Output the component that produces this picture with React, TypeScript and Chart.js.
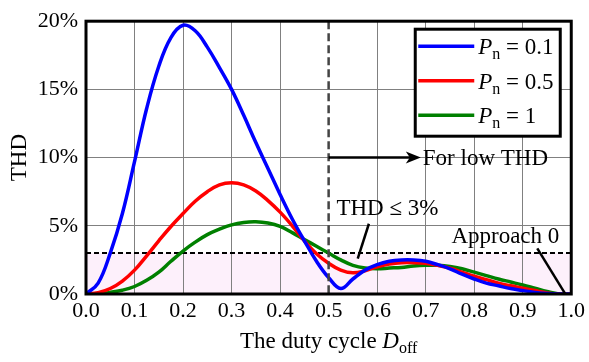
import React, { useEffect, useRef } from 'react';
import { Chart, registerables } from 'chart.js';

Chart.register(...registerables);

// ---- data ----
const dutyCycle = [
  0, 0.025, 0.05, 0.075, 0.1, 0.125, 0.15, 0.175, 0.2, 0.225,
  0.25, 0.275, 0.3, 0.325, 0.35, 0.375, 0.4, 0.425, 0.45, 0.475,
  0.5, 0.525, 0.55, 0.575, 0.6, 0.625, 0.65, 0.675, 0.7, 0.725,
  0.75, 0.775, 0.8, 0.825, 0.85, 0.875, 0.9, 0.925, 0.95, 0.975, 1.0,
];
const thdPn01 = [
  0, 0.8, 3.0, 5.9, 9.7, 13.6, 16.7, 18.8, 19.7, 19.3,
  18.1, 16.6, 15.0, 13.1, 11.1, 9.2, 7.3, 5.5, 3.9, 2.4,
  1.2, 0.4, 1.1, 1.75, 2.15, 2.4, 2.5, 2.5, 2.4, 2.15,
  1.85, 1.45, 1.1, 0.8, 0.6, 0.4, 0.25, 0.12, 0.03, 0, 0,
];
const thdPn05 = [
  0, 0.1, 0.4, 0.95, 1.75, 2.8, 3.9, 4.95, 5.9, 6.8,
  7.5, 8.0, 8.15, 8.0, 7.55, 6.85, 6.0, 5.0, 3.9, 2.95,
  2.25, 1.75, 1.55, 1.7, 2.0, 2.2, 2.3, 2.3, 2.25, 2.1,
  1.9, 1.6, 1.3, 1.05, 0.8, 0.6, 0.43, 0.25, 0.08, 0, 0,
];
const thdPn1 = [
  0, 0.03, 0.12, 0.28, 0.55, 1.0, 1.6, 2.4, 3.15, 3.8,
  4.35, 4.75, 5.07, 5.25, 5.3, 5.2, 4.95, 4.5, 4.0, 3.5,
  3.0, 2.5, 2.1, 1.9, 1.85, 1.9, 1.95, 2.05, 2.1, 2.1,
  2.02, 1.85, 1.6, 1.35, 1.1, 0.88, 0.66, 0.42, 0.18, 0, 0,
];

const seriesValues = [thdPn01, thdPn05, thdPn1];
const seriesPn = ['0.1', '0.5', '1'];
const seriesColors = ['#0000ff', '#ff0000', '#008000'];

const xMin = 0;
const xMax = 1;
const xStep = 0.1;
const yMin = 0;
const yMax = 20;
const yStep = 5;

const thdLimit = 3; // %
const dividerDuty = 0.5;

// annotations (data coordinates)
const arrowStart = { x: 0.5, y: 10 };
const arrowEnd = { x: 0.69, y: 10 };
const arrowText = 'For low THD';
const limitText = 'THD \u2264 3%';
const limitTextPos = { x: 0.516, y: 6.2 };
const limitLeader = [{ x: 0.583, y: 5.15 }, { x: 0.56, y: 2.6 }];
const approachText = 'Approach 0';
const approachTextPos = { x: 0.753, y: 4.2 };
const approachLeader = [{ x: 0.93, y: 3.35 }, { x: 0.987, y: 0.05 }];

const FONT = '"Liberation Serif", "Times New Roman", serif';

type Part = { text: string; italic?: boolean; size: number; dy?: number };

function fontOf(p: Part) {
  return `${p.italic ? 'italic ' : ''}${p.size}px ${FONT}`;
}

function partsWidth(ctx: CanvasRenderingContext2D, parts: Part[]) {
  let w = 0;
  for (const p of parts) {
    ctx.font = fontOf(p);
    w += ctx.measureText(p.text).width;
  }
  return w;
}

function drawParts(ctx: CanvasRenderingContext2D, parts: Part[], x: number, y: number, align: 'left' | 'center') {
  let cx = align === 'center' ? x - partsWidth(ctx, parts) / 2 : x;
  ctx.textAlign = 'left';
  for (const p of parts) {
    ctx.font = fontOf(p);
    ctx.fillText(p.text, cx, y + (p.dy || 0));
    cx += ctx.measureText(p.text).width;
  }
}

const decorPlugin = {
  id: 'decor',
  beforeDraw(chart: any) {
    const { ctx, chartArea: a, scales } = chart;
    const y = scales.y;
    const yTop = y.getPixelForValue(thdLimit);
    ctx.save();
    ctx.fillStyle = '#fdf0fb';
    ctx.fillRect(a.left, yTop, a.right - a.left, a.bottom - yTop);
    ctx.restore();
  },
  beforeDatasetsDraw(chart: any) {
    const { ctx, chartArea: a, scales } = chart;
    const yy = scales.y.getPixelForValue(thdLimit);
    ctx.save();
    ctx.strokeStyle = '#000';
    ctx.lineWidth = 2;
    ctx.setLineDash([5, 3]);
    ctx.beginPath();
    ctx.moveTo(a.left, yy);
    ctx.lineTo(a.right, yy);
    ctx.stroke();
    ctx.restore();
  },
  afterDatasetsDraw(chart: any) {
    const { ctx, chartArea: a, scales } = chart;
    const xx = scales.x.getPixelForValue(dividerDuty);
    ctx.save();
    ctx.strokeStyle = '#444';
    ctx.lineWidth = 2.5;
    ctx.setLineDash([8, 4]);
    ctx.beginPath();
    ctx.moveTo(xx, a.top);
    ctx.lineTo(xx, a.bottom);
    ctx.stroke();
    ctx.restore();
  },
  afterDraw(chart: any) {
    const { ctx, chartArea: a, scales } = chart;
    const X = (v: number) => scales.x.getPixelForValue(v);
    const Y = (v: number) => scales.y.getPixelForValue(v);
    ctx.save();
    ctx.fillStyle = '#000';
    ctx.strokeStyle = '#000';

    // frame
    ctx.lineWidth = 3;
    ctx.strokeRect(a.left, a.top, a.right - a.left, a.bottom - a.top);

    // arrow
    const ax0 = X(arrowStart.x), ay = Y(arrowStart.y), ax1 = X(arrowEnd.x);
    ctx.lineWidth = 2.5;
    ctx.beginPath();
    ctx.moveTo(ax0, ay);
    ctx.lineTo(ax1 - 8, ay);
    ctx.stroke();
    ctx.beginPath();
    ctx.moveTo(ax1, ay);
    ctx.lineTo(ax1 - 15, ay - 6);
    ctx.lineTo(ax1 - 11, ay);
    ctx.lineTo(ax1 - 15, ay + 6);
    ctx.closePath();
    ctx.fill();

    ctx.textBaseline = 'middle';
    ctx.font = `23px ${FONT}`;
    ctx.textAlign = 'left';
    ctx.fillText(arrowText, ax1 + 2, ay + 1);

    // THD <= 3%
    ctx.fillText(limitText, X(limitTextPos.x), Y(limitTextPos.y));
    ctx.lineWidth = 2.5;
    ctx.beginPath();
    ctx.moveTo(X(limitLeader[0].x), Y(limitLeader[0].y));
    ctx.lineTo(X(limitLeader[1].x), Y(limitLeader[1].y));
    ctx.stroke();

    // Approach 0
    ctx.fillText(approachText, X(approachTextPos.x), Y(approachTextPos.y));
    ctx.beginPath();
    ctx.moveTo(X(approachLeader[0].x), Y(approachLeader[0].y));
    ctx.lineTo(X(approachLeader[1].x), Y(approachLeader[1].y));
    ctx.stroke();

    // legend
    const bw = 145, bh = 107;
    const bx = a.right - 156, by = a.top + 8;
    ctx.fillStyle = '#fff';
    ctx.fillRect(bx, by, bw, bh);
    ctx.lineWidth = 3;
    ctx.strokeRect(bx, by, bw, bh);
    const rowGap = 34.5;
    for (let i = 0; i < seriesPn.length; i++) {
      const ry = by + 17 + i * rowGap;
      ctx.strokeStyle = seriesColors[i];
      ctx.lineWidth = 3.5;
      ctx.beginPath();
      ctx.moveTo(bx + 3, ry);
      ctx.lineTo(bx + 59, ry);
      ctx.stroke();
      ctx.fillStyle = '#000';
      ctx.textBaseline = 'alphabetic';
      drawParts(ctx, [
        { text: 'P', italic: true, size: 23 },
        { text: 'n', size: 16, dy: 5 },
        { text: ' = ' + seriesPn[i], size: 23 },
      ], bx + 63, ry + 8, 'left');
    }

    // axis titles
    ctx.fillStyle = '#000';
    ctx.textBaseline = 'alphabetic';
    drawParts(ctx, [
      { text: 'The duty cycle ', size: 23 },
      { text: 'D', italic: true, size: 23 },
      { text: 'off', size: 16, dy: 5 },
    ], (a.left + a.right) / 2, 348, 'center');

    ctx.save();
    ctx.translate(26, (a.top + a.bottom) / 2);
    ctx.rotate(-Math.PI / 2);
    ctx.font = `23px ${FONT}`;
    ctx.textAlign = 'center';
    ctx.textBaseline = 'alphabetic';
    ctx.fillText('THD', 0, 0);
    ctx.restore();

    ctx.restore();
  },
};

export default function App() {
  const ref = useRef<HTMLCanvasElement>(null);
  useEffect(() => {
    if (!ref.current) return;
    const chart = new Chart(ref.current, {
      type: 'line',
      data: {
        datasets: seriesValues.map((vals, i) => ({
          label: 'Pn = ' + seriesPn[i],
          data: dutyCycle.map((d, k) => ({ x: d, y: vals[k] })),
          borderColor: seriesColors[i],
          backgroundColor: seriesColors[i],
          borderWidth: 3.5,
          pointRadius: 0,
          tension: 0.4,
          fill: false,
        })),
      },
      options: {
        animation: false,
        responsive: false,
        maintainAspectRatio: false,
        layout: { padding: { top: 15, right: 16, left: 0, bottom: 0 } },
        plugins: { legend: { display: false }, tooltip: { enabled: false } },
        scales: {
          x: {
            type: 'linear',
            min: xMin,
            max: xMax,
            afterFit: (s: any) => { s.height = 68; },
            afterBuildTicks: (s: any) => {
              const t = [];
              for (let v = xMin; v <= xMax + 1e-9; v += xStep) t.push({ value: Math.round(v * 10) / 10 });
              s.ticks = t;
            },
            ticks: {
              color: '#000',
              font: { family: FONT, size: 22 },
              padding: 4,
              maxRotation: 0,
              autoSkip: false,
              callback: (v: any) => Number(v).toFixed(1),
            },
            grid: {
              color: (c: any) => (c.tick && Math.abs(c.tick.value - dividerDuty) < 1e-6 ? 'rgba(0,0,0,0)' : '#808080'),
              lineWidth: 1,
              drawTicks: false,
            },
            border: { display: false },
          },
          y: {
            type: 'linear',
            min: yMin,
            max: yMax,
            afterFit: (s: any) => { s.width = 86; },
            ticks: {
              stepSize: yStep,
              color: '#000',
              font: { family: FONT, size: 22 },
              padding: 8,
              callback: (v: any) => v + '%',
            },
            grid: { color: '#808080', lineWidth: 1, drawTicks: false },
            border: { display: false },
          },
        },
      },
      plugins: [decorPlugin],
    } as any);
    return () => chart.destroy();
  }, []);
  return (
    <div style={{ position: 'fixed', left: 0, top: 0, width: 589, height: 362, background: '#fff' }}>
      <canvas ref={ref} width={589} height={362} style={{ display: 'block', width: 589, height: 362 }} />
    </div>
  );
}
